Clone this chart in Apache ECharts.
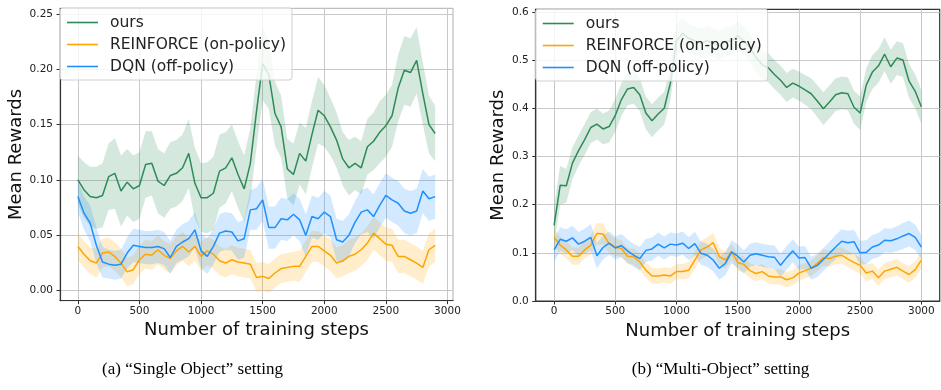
<!DOCTYPE html>
<html><head><meta charset="utf-8">
<script src="https://cdn.jsdelivr.net/npm/echarts@6/dist/echarts.min.js"></script>
<style>html,body{margin:0;padding:0;background:#fff}#c{width:941px;height:390px}</style>
</head><body><div id="c"></div>
<script>
// ---------- Data: (a) Single Object ----------
const stepsA = [0,50,100,150,200,250,300,350,400,450,500,550,600,650,700,750,800,850,900,950,
  1000,1050,1100,1150,1200,1250,1300,1350,1400,1450,1500,1550,1600,1650,1700,1750,1800,1850,1900,1950,
  2000,2050,2100,2150,2200,2250,2300,2350,2400,2450,2500,2550,2600,2650,2700,2750,2800,2850,2900];
const oursA = [.100,.091,.085,.084,.086,.103,.106,.090,.098,.092,.095,.114,.115,.099,.095,.104,.106,.111,.124,.097,
  .084,.084,.088,.108,.111,.120,.105,.092,.115,.162,.205,.195,.160,.148,.110,.105,.124,.117,.141,.163,
  .158,.148,.136,.119,.111,.115,.111,.130,.135,.143,.149,.158,.183,.199,.197,.208,.178,.150,.142];
const oursA_hw = [.022,.025,.027,.028,.029,.030,.032,.032,.030,.030,.030,.030,.029,.029,.029,.030,.030,.030,.031,.032,
  .031,.032,.033,.033,.032,.030,.030,.030,.032,.033,.033,.031,.029,.028,.027,.028,.028,.030,.030,.030,
  .028,.026,.025,.024,.025,.024,.024,.025,.026,.028,.028,.028,.030,.031,.031,.030,.028,.026,.025];
const reinfA = [.040,.033,.027,.025,.034,.035,.031,.025,.017,.019,.028,.033,.032,.037,.032,.029,.036,.040,.035,.040,
  .031,.036,.033,.027,.025,.028,.026,.025,.024,.012,.013,.011,.016,.020,.021,.022,.022,.031,.040,.040,
  .036,.032,.025,.027,.031,.033,.037,.043,.052,.047,.042,.041,.031,.031,.028,.025,.021,.037,.041];
const reinfA_hw = [.012,.012,.012,.013,.013,.013,.013,.013,.013,.013,.013,.013,.013,.013,.013,.013,.013,.013,.013,.013,
  .013,.013,.013,.013,.013,.013,.013,.013,.013,.013,.013,.013,.013,.013,.013,.013,.014,.014,.014,.014,
  .014,.014,.014,.014,.015,.015,.015,.015,.015,.015,.015,.015,.015,.015,.015,.015,.015,.015,.015];
const dqnA = [.085,.070,.061,.041,.026,.024,.023,.024,.034,.041,.040,.039,.039,.040,.038,.030,.040,.044,.047,.055,
  .036,.031,.040,.052,.054,.053,.045,.047,.073,.074,.082,.057,.057,.065,.064,.069,.064,.050,.067,.065,
  .071,.067,.046,.044,.050,.062,.071,.073,.067,.077,.086,.082,.079,.072,.070,.072,.090,.083,.085];
const dqnA_hw = [.014,.015,.016,.016,.014,.013,.013,.013,.014,.015,.015,.015,.015,.015,.015,.015,.015,.016,.016,.016,
  .016,.016,.016,.017,.017,.017,.017,.017,.018,.019,.019,.019,.019,.019,.019,.019,.019,.019,.019,.019,
  .019,.019,.019,.019,.019,.019,.020,.020,.020,.020,.020,.020,.020,.020,.020,.020,.020,.020,.020];

// ---------- Data: (b) Multi-Object ----------
const stepsB = [0,50,100,150,200,250,300,350,400,450,500,550,600,650,700,750,800,850,900,950,
  1000,1050,1100,1150,1200,1250,1300,1350,1400,1450,1500,1550,1600,1650,1700,1750,1800,1850,1900,1950,
  2000,2050,2100,2150,2200,2250,2300,2350,2400,2450,2500,2550,2600,2650,2700,2750,2800,2850,2900,2950,3000];
const oursB = [.157,.240,.239,.286,.312,.335,.360,.367,.357,.362,.385,.418,.440,.443,.428,.390,.374,.388,.400,.452,
  .540,.555,.545,.540,.535,.540,.535,.530,.538,.540,.550,.540,.525,.505,.490,.484,.470,.458,.443,.452,
  .446,.438,.430,.415,.399,.413,.428,.432,.430,.402,.390,.448,.475,.488,.512,.486,.504,.500,.456,.435,.403];
const oursB_hw = [.040,.040,.035,.033,.032,.032,.032,.032,.032,.033,.034,.034,.034,.034,.034,.034,.034,.034,.034,.034,
  .034,.032,.030,.030,.030,.030,.030,.030,.030,.030,.030,.030,.030,.030,.030,.030,.030,.030,.030,.030,
  .030,.031,.032,.033,.034,.034,.034,.034,.034,.034,.035,.035,.035,.035,.035,.035,.035,.035,.035,.035,.035];
const reinfB = [.132,.116,.106,.093,.093,.106,.116,.140,.139,.119,.112,.109,.093,.092,.081,.064,.052,.052,.054,.052,
  .061,.061,.064,.085,.106,.112,.121,.092,.085,.102,.080,.076,.063,.057,.061,.052,.050,.050,.044,.048,
  .058,.063,.068,.078,.090,.088,.093,.095,.087,.080,.074,.058,.062,.048,.062,.066,.070,.062,.055,.065,.085];
const reinfB_hw = [.018,.018,.018,.018,.018,.018,.020,.022,.022,.020,.018,.017,.017,.017,.017,.016,.016,.016,.016,.016,
  .016,.016,.017,.018,.019,.020,.020,.018,.017,.017,.017,.017,.016,.016,.016,.016,.016,.016,.016,.016,
  .016,.016,.016,.017,.017,.017,.017,.017,.017,.017,.017,.017,.017,.017,.017,.017,.017,.017,.017,.017,.017];
const dqnB = [.106,.128,.124,.131,.118,.124,.132,.094,.111,.120,.110,.115,.104,.095,.088,.105,.108,.118,.110,.118,
  .116,.120,.109,.119,.099,.095,.085,.068,.078,.102,.093,.081,.095,.098,.095,.092,.091,.074,.090,.104,
  .089,.090,.068,.074,.086,.099,.112,.124,.121,.123,.100,.101,.112,.116,.126,.125,.129,.135,.140,.132,.112];
const dqnB_hw = [.024,.025,.025,.025,.025,.026,.028,.026,.025,.024,.024,.024,.024,.024,.024,.024,.024,.024,.024,.024,
  .024,.024,.024,.024,.024,.024,.024,.024,.024,.024,.024,.024,.024,.024,.024,.024,.024,.024,.024,.024,
  .024,.024,.024,.024,.024,.024,.025,.025,.025,.025,.025,.025,.025,.025,.025,.025,.026,.027,.027,.026,.025];

const xTicks = [0,500,1000,1500,2000,2500,3000];
const yTicksA = [0,0.05,0.10,0.15,0.20,0.25];
const yTicksB = [0,0.1,0.2,0.3,0.4,0.5,0.6];
const seriesNames = ['ours','REINFORCE (on-policy)','DQN (off-policy)'];
const colors = ['#2e8b57','#ffa500','#1e90ff'];
const bandColors = ['rgba(46,139,87,0.2)','rgba(255,165,0,0.2)','rgba(30,144,255,0.2)'];
const captions = ['(a) \u201cSingle Object\u201d setting','(b) \u201cMulti-Object\u201d setting'];

// ---------- Build ----------
const FONT = 'DejaVu Sans';
function lineS(name, gi, steps, vals, color){
  return {name, type:'line', xAxisIndex:gi, yAxisIndex:gi, symbol:'none', animation:false,
    data: steps.map((s,i)=>[s, vals[i]]), lineStyle:{color, width:1.5}, itemStyle:{color}, z:2};
}
function bandS(gi, steps, vals, hw, fill){
  return {type:'custom', xAxisIndex:gi, yAxisIndex:gi, silent:true, animation:false, z:1,
    data:[[steps[0], vals[0]]],
    renderItem:(params, api)=>{
      const up = steps.map((s,i)=>api.coord([s, vals[i]+hw[i]]));
      const lo = steps.map((s,i)=>api.coord([s, vals[i]-hw[i]])).reverse();
      return {type:'polygon', shape:{points: up.concat(lo)}, style:{fill}};
    }};
}
function xAx(gi, min, max){
  return {type:'value', gridIndex:gi, min, max,
    name:'Number of training steps', nameLocation:'middle', nameGap:19,
    nameTextStyle:{fontFamily:FONT, fontSize:18, color:'#111'},
    axisLine:{show:true, onZero:false, lineStyle:{color:'#333', width:1.2}},
    axisTick:{show:true, customValues:xTicks, length:3.5, lineStyle:{color:'#333'}},
    axisLabel:{customValues:xTicks, margin:5, fontFamily:FONT, fontSize:10.5, color:'#222',
      formatter:v=>String(v)},
    splitLine:{show:true, lineStyle:{color:'#c8c8c8', width:1}}};
}
function yAx(gi, min, max, ticks, dec, gap){
  return {type:'value', gridIndex:gi, min, max,
    name:'Mean Rewards', nameLocation:'middle', nameGap:gap,
    nameTextStyle:{fontFamily:FONT, fontSize:18, color:'#111'},
    axisLine:{show:true, onZero:false, lineStyle:{color:'#333', width:1.2}},
    axisTick:{show:true, customValues:ticks, length:3.5, lineStyle:{color:'#333'}},
    axisLabel:{customValues:ticks, margin:7, fontFamily:FONT, fontSize:10.5, color:'#222',
      formatter:v=>Number(v).toFixed(dec)},
    splitLine:{show:true, lineStyle:{color:'#c8c8c8', width:1}}};
}
function legend(left, top){
  return {orient:'vertical', left, top, z:10, data:seriesNames, icon:'rect',
    itemWidth:31, itemHeight:1.6, itemGap:5, padding:[6,6,5,7],
    backgroundColor:'rgba(255,255,255,0.8)', borderColor:'#d0d0d0', borderWidth:1, borderRadius:3,
    textStyle:{fontFamily:FONT, fontSize:15.5, color:'#222', lineHeight:17, padding:[0,0,0,7]}};
}

const series = [];
const dataA = [[oursA,oursA_hw],[reinfA,reinfA_hw],[dqnA,dqnA_hw]];
const dataB = [[oursB,oursB_hw],[reinfB,reinfB_hw],[dqnB,dqnB_hw]];
dataA.forEach((d,k)=>series.push(bandS(0,stepsA,d[0],d[1],bandColors[k])));
dataB.forEach((d,k)=>series.push(bandS(1,stepsB,d[0],d[1],bandColors[k])));
dataA.forEach((d,k)=>series.push(lineS(seriesNames[k],0,stepsA,d[0],colors[k])));
dataB.forEach((d,k)=>series.push(lineS(seriesNames[k],1,stepsB,d[0],colors[k])));

const chart = echarts.init(document.getElementById('c'));
chart.setOption({
  animation:false,
  backgroundColor:'#fff',
  grid:[
    {left:60, top:8.3, width:393, height:292.4, show:true, borderColor:'#b0b0b0', borderWidth:1, backgroundColor:'transparent'},
    {left:535.7, top:9.4, width:404, height:291.6, show:true, borderColor:'#333', borderWidth:1.2, backgroundColor:'transparent'}
  ],
  xAxis:[xAx(0,-145,3045), xAx(1,-150,3150)],
  yAxis:[yAx(0,-0.009,0.255,yTicksA,2,33), yAx(1,0,0.605,yTicksB,1,28)],
  legend:[legend(60,8), legend(535.7,9)],
  graphic:[
    {type:'text', x:192.5, y:370, style:{text:captions[0], fontFamily:'Liberation Serif', fontSize:17, fill:'#000', textAlign:'center', textVerticalAlign:'middle'}},
    {type:'text', x:720.5, y:370, style:{text:captions[1], fontFamily:'Liberation Serif', fontSize:17, fill:'#000', textAlign:'center', textVerticalAlign:'middle'}}
  ],
  series
});
</script>
</body></html>
